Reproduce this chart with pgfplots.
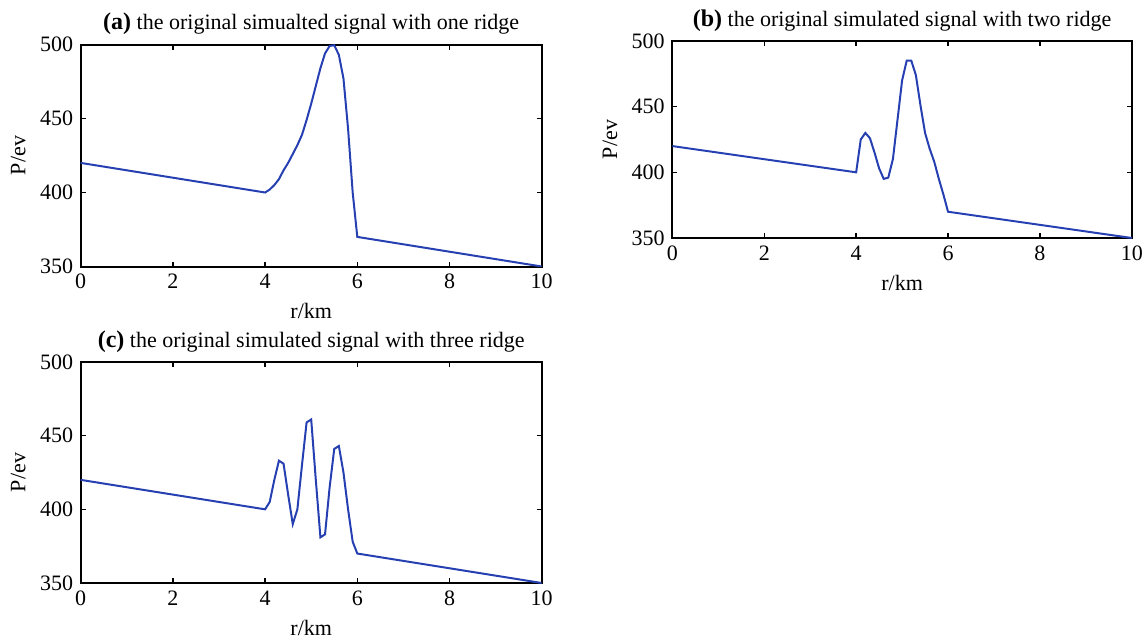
\documentclass[border=0pt]{standalone}
\usepackage{fontspec}
\setmainfont{Liberation Serif}
\usepackage{pgfplots}
\pgfplotsset{compat=1.18}
\definecolor{sigblue}{rgb}{0.15,0.25,0.70}
\pgfplotsset{
  sig/.style={
    scale only axis, width=230.5pt, height=111pt,
    anchor=south west,
    xmin=0, xmax=10, ymin=350, ymax=500,
    xtick={0,2,...,10}, ytick={350,400,450,500},
    tick align=inside, major tick length=2.5pt,
    line width=1pt,
    every tick/.style={black, line width=0.7pt},
    xlabel={r/km}, ylabel={P/ev},
    tick label style={font=\fontsize{11}{13}\selectfont},
    label style={font=\fontsize{11}{13}\selectfont},
    title style={font=\fontsize{11}{13}\selectfont, yshift=-5pt},
    /pgf/number format/assume math mode=true,
    cycle list={{sigblue, line width=0.9pt, no markers}},
  }
}
\begin{document}
\begin{tikzpicture}
\path[use as bounding box] (0,0) rectangle (574pt,-321pt);

% (a) one ridge
\begin{axis}[sig, at={(40.35pt,-133.25pt)},
  title={{\large\textbf{(a)}} the original simualted signal with one ridge}]
\addplot coordinates {
  (0,420) (1,415) (2,410) (3,405) (4,400)
  (4.1,402) (4.2,405) (4.3,409) (4.4,415) (4.5,420) (4.6,426) (4.7,432)
  (4.8,439) (4.9,449) (5.0,460) (5.1,472) (5.2,484) (5.3,494) (5.4,499)
  (5.5,499.5) (5.6,493) (5.7,477) (5.8,443) (5.9,400) (6.0,370)
  (7,365) (8,360) (9,355) (10,350)
};
\end{axis}

% (b) two ridges
\begin{axis}[sig, at={(336.2pt,-119pt)}, width=229.7pt, height=98.5pt,
  title={{\large\textbf{(b)}} the original simulated signal with two ridge}]
\addplot coordinates {
  (0,420) (1,415) (2,410) (3,405) (4,400)
  (4.1,425) (4.2,430) (4.3,426) (4.4,415) (4.5,403) (4.6,395) (4.7,396)
  (4.8,410) (4.9,440) (5.0,470) (5.1,485) (5.2,485) (5.3,474) (5.4,451)
  (5.5,430) (5.6,418) (5.7,408) (5.8,395) (5.9,383) (6.0,370)
  (7,365) (8,360) (9,355) (10,350)
};
\end{axis}

% (c) three ridges
\begin{axis}[sig, at={(40.35pt,-291.5pt)}, height=110.5pt,
  title={{\large\textbf{(c)}} the original simulated signal with three ridge}]
\addplot coordinates {
  (0,420) (1,415) (2,410) (3,405) (4,400)
  (4.1,405) (4.2,420) (4.3,433) (4.4,431) (4.5,410) (4.6,390) (4.7,400)
  (4.8,430) (4.9,459) (5.0,461) (5.1,420) (5.2,381) (5.3,383) (5.4,415)
  (5.5,441) (5.6,443) (5.7,425) (5.8,400) (5.9,378) (6.0,370)
  (7,365) (8,360) (9,355) (10,350)
};
\end{axis}
\end{tikzpicture}
\end{document}
